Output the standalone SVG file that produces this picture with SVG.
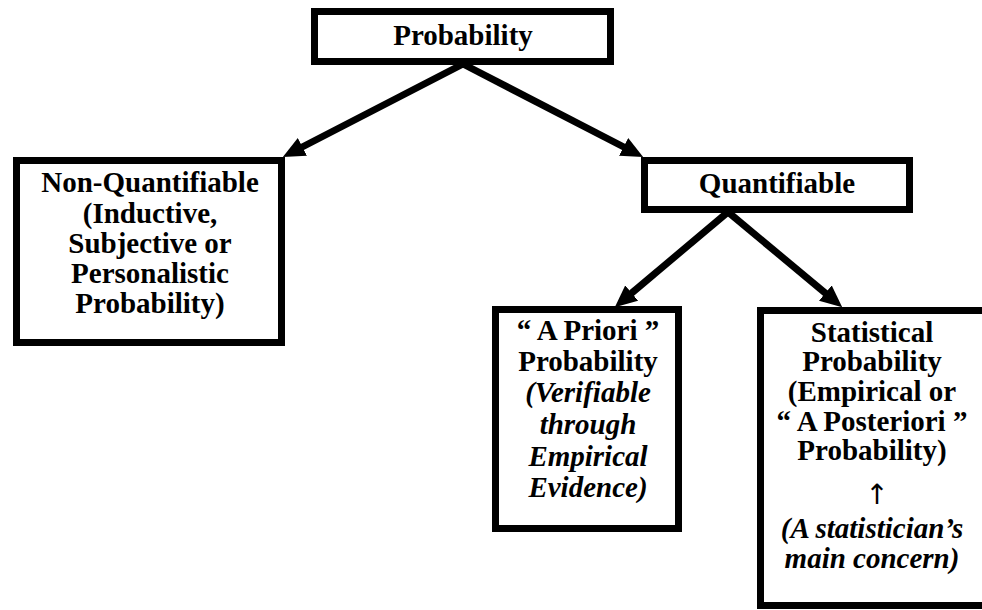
<svg xmlns="http://www.w3.org/2000/svg" width="982" height="610" viewBox="0 0 982 610">
  <style>
    .box { fill: #fff; stroke: #000; stroke-width: 7; }
    .t { font-family: 'Liberation Serif', 'Times New Roman', serif; font-size: 29px; font-weight: 700; fill: #000; text-anchor: middle; }
    .i { font-style: italic; }
    .up { font-family: 'DejaVu Sans', sans-serif; font-size: 28px; font-weight: 400; fill: #000; text-anchor: middle; }
    .conn { stroke: #000; stroke-width: 7; fill: none; }
  </style>
  <defs>
    <marker id="ah" viewBox="0 0 22 20" refX="10" refY="10" markerWidth="22" markerHeight="20" markerUnits="userSpaceOnUse" orient="auto">
      <path d="M0,0 L22,10 L0,20 z" fill="#000"/>
    </marker>
  </defs>
  <rect width="982" height="610" fill="#fff"/>

  <g id="connectors">
    <line class="conn" x1="463" y1="64" x2="293.5" y2="151.5" marker-end="url(#ah)"/>
    <line class="conn" x1="463" y1="64" x2="632.5" y2="151.5" marker-end="url(#ah)"/>
    <line class="conn" x1="728" y1="212" x2="624" y2="299.5" marker-end="url(#ah)"/>
    <line class="conn" x1="728" y1="212" x2="833" y2="299.5" marker-end="url(#ah)"/>
  </g>

  <g id="probability">
    <rect class="box" x="314.5" y="11.5" width="296" height="50"/>
    <text class="t" x="463" y="45">Probability</text>
  </g>

  <g id="non-quantifiable">
    <rect class="box" x="16.5" y="160.5" width="265" height="182"/>
    <text class="t" x="150" y="192">Non-Quantifiable</text>
    <text class="t" x="150" y="222.5">(Inductive,</text>
    <text class="t" x="150" y="253">Subjective or</text>
    <text class="t" x="150" y="283">Personalistic</text>
    <text class="t" x="150" y="313">Probability)</text>
  </g>

  <g id="quantifiable">
    <rect class="box" x="644.5" y="160.5" width="265" height="49"/>
    <text class="t" x="777" y="193">Quantifiable</text>
  </g>

  <g id="a-priori">
    <rect class="box" x="495.5" y="309.5" width="183" height="219"/>
    <text class="t" x="588" y="340">“ A Priori ”</text>
    <text class="t" x="588" y="371">Probability</text>
    <text class="t i" x="588" y="402">(Verifiable</text>
    <text class="t i" x="588" y="434">through</text>
    <text class="t i" x="588" y="466">Empirical</text>
    <text class="t i" x="588" y="497">Evidence)</text>
  </g>

  <g id="statistical">
    <rect class="box" x="760.5" y="310.5" width="230" height="295"/>
    <text class="t" x="872" y="342">Statistical</text>
    <text class="t" x="872" y="371">Probability</text>
    <text class="t" x="872" y="401">(Empirical or</text>
    <text class="t" x="872" y="431">“ A Posteriori ”</text>
    <text class="t" x="872" y="460">Probability)</text>
    <text class="up" x="877" y="504">↑</text>
    <text class="t i" x="872" y="538">(A statistician’s</text>
    <text class="t i" x="872" y="568">main concern)</text>
  </g>
</svg>
